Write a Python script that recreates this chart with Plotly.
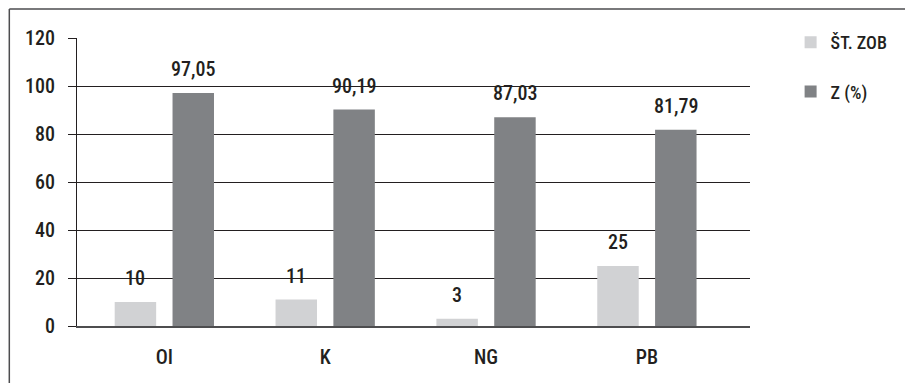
import plotly.graph_objects as go

# Data
categories = ["OI", "K", "NG", "PB"]
st_zob = [10, 11, 3, 25]
z_pct = [97.05, 90.19, 87.03, 81.79]
y_ticks = [0, 20, 40, 60, 80, 100, 120]

LIGHT = "#d1d2d4"
DARK = "#808285"
INK = "#231f20"
FONT = "Roboto Condensed, Liberation Sans Narrow, sans-serif"
FSIZE = 20


def fmt(v):
    s = f"{v:.2f}" if isinstance(v, float) else str(v)
    return s.replace(".", ",")


fig = go.Figure()
fig.add_trace(go.Bar(
    name="ŠT. ZOB", x=categories, y=st_zob, marker_color=LIGHT,
    marker_line_width=0, legendgroup="a",
))
fig.add_trace(go.Bar(
    name="Z (%)", x=categories, y=z_pct, marker_color=DARK,
    marker_line_width=0, legendgroup="b",
))

# plot area geometry (pixels)
L, T = 77, 38
W, H = 696, 288
cat_w = 166.35                   # pixel width of one category band
x_lo = -0.543                    # small lead-in before the first group
x_hi = x_lo + W / cat_w          # leaves empty space right of the last group

# value labels above the bars
bargap = 0.281
slot = (1 - bargap) / 2
annotations = []
for i, cat in enumerate(categories):
    for vals, off in ((st_zob, -slot / 2), (z_pct, slot / 2)):
        annotations.append(dict(
            x=i + off, y=vals[i], xref="x", yref="y", text=fmt(vals[i]),
            showarrow=False, yanchor="bottom", yshift=10,
            font=dict(family=FONT, size=FSIZE, color=INK, weight=500),
        ))

# outer frame (runs off the right and bottom edges)
fx = (7 - L) / W
fy = (T + H - 9) / H
shapes = [
    dict(type="line", xref="paper", yref="paper", x0=fx, x1=fx, y0=-0.5, y1=fy,
         line=dict(color="#4d4d4f", width=1.5)),
    dict(type="line", xref="paper", yref="paper", x0=fx, x1=1.5, y0=fy, y1=fy,
         line=dict(color="#4d4d4f", width=1.5)),
]

fig.update_layout(
    width=905, height=383,
    margin=dict(l=L, r=905 - L - W, t=T, b=383 - T - H),
    paper_bgcolor="white", plot_bgcolor="white",
    barmode="group", bargap=bargap, bargroupgap=0.283,
    font=dict(family=FONT, size=FSIZE, color=INK, weight=500),
    showlegend=True,
    legend=dict(
        x=(815 - L) / W, y=(T + H - 24) / H, xanchor="left", yanchor="top",
        tracegroupgap=23, itemwidth=30,
        font=dict(family=FONT, size=18, color=INK, weight=500),
        bgcolor="rgba(0,0,0,0)",
    ),
    xaxis=dict(
        type="category", range=[x_lo, x_hi], showgrid=False, ticks="",
        showline=True, linecolor="#4d4d4f", linewidth=1.5,
        tickfont=dict(size=FSIZE), ticklabelstandoff=12,
    ),
    yaxis=dict(
        range=[0, 120], tickvals=y_ticks, showgrid=True, gridcolor=INK,
        gridwidth=1, zeroline=False, showline=True, linecolor=INK, linewidth=1,
        ticks="outside", ticklen=8, tickcolor=INK, tickfont=dict(size=FSIZE),
        ticklabelstandoff=9,
    ),
    annotations=annotations,
    shapes=shapes,
)

fig.write_html("out.html")
